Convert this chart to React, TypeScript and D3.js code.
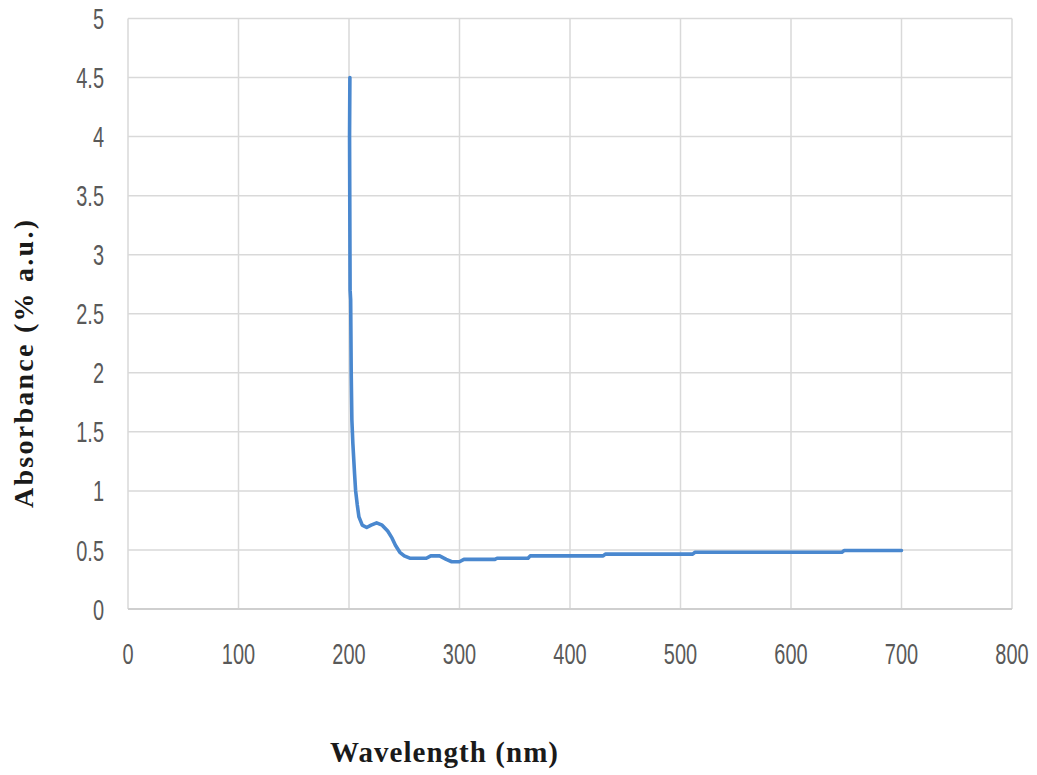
import React from "react";
import * as d3 from "d3";

const wavelength = [200.8, 200.5, 200.8, 201.0, 201.5, 202.0, 202.6, 203.5, 205, 206, 207.5, 209, 212, 216, 220, 225, 230, 235, 239, 242, 246, 250, 255, 262, 270, 274, 282, 288, 293, 300, 304, 332, 334, 362, 364, 430, 432, 511, 513, 646, 648, 700];
const absorbance = [4.5, 4.0, 3.2, 2.7, 2.62, 2.0, 1.6, 1.4, 1.15, 1.0, 0.88, 0.78, 0.71, 0.69, 0.71, 0.73, 0.71, 0.66, 0.6, 0.54, 0.48, 0.45, 0.43, 0.43, 0.43, 0.45, 0.45, 0.42, 0.40, 0.40, 0.42, 0.42, 0.43, 0.43, 0.45, 0.45, 0.465, 0.465, 0.48, 0.48, 0.495, 0.495];
const xTicks = [0, 100, 200, 300, 400, 500, 600, 700, 800];
const yTicks = [0, 0.5, 1, 1.5, 2, 2.5, 3, 3.5, 4, 4.5, 5];
const xTitle = "Wavelength (nm)";
const yTitle = "Absorbance (% a.u.)";

export default function App() {
  const W = 1037, H = 775;
  const x = d3.scaleLinear().domain([0, 800]).range([128, 1012]);
  const y = d3.scaleLinear().domain([0, 5]).range([609, 18.5]);
  const pts = wavelength.map((w, i) => [w, absorbance[i]] as [number, number]);
  const line = d3.line<[number, number]>().x(d => x(d[0])).y(d => y(d[1]));
  const grid = "#d9d9d9";
  const tickFont = "'Liberation Sans', Arial, sans-serif";
  return (
    <svg width={W} height={H} style={{ position: "absolute", left: 0, top: 0, background: "#fff" }}>
      <rect x={0} y={0} width={W} height={H} fill="#fff" />
      {yTicks.map(t => (
        <line key={"gy" + t} x1={x(0)} x2={x(800)} y1={y(t)} y2={y(t)} stroke={grid} strokeWidth={1.5} />
      ))}
      {xTicks.map(t => (
        <line key={"gx" + t} x1={x(t)} x2={x(t)} y1={y(0)} y2={y(5)} stroke={grid} strokeWidth={1.5} />
      ))}
      <line x1={x(0)} x2={x(800)} y1={y(0)} y2={y(0)} stroke="#cfcfcf" strokeWidth={2} />
      <path d={line(pts) || ""} fill="none" stroke="#4a88cf" strokeWidth={3.6} strokeLinejoin="round" strokeLinecap="round" />
      {yTicks.map(t => (
        <text key={"ty" + t} transform={`translate(104,${y(t)}) scale(0.95,1.42)`} textAnchor="end" dominantBaseline="central"
          fontFamily={tickFont} fontSize={21} fill="#595959">{String(t)}</text>
      ))}
      {xTicks.map(t => (
        <text key={"tx" + t} transform={`translate(${x(t)},653) scale(0.95,1.42)`} textAnchor="middle" dominantBaseline="central"
          fontFamily={tickFont} fontSize={21} fill="#595959">{String(t)}</text>
      ))}
      <text x={444} y={762} textAnchor="middle" fontFamily="'Liberation Serif', 'Times New Roman', serif" fontWeight="bold"
        fontSize={29} fill="#1a1a1a" textLength={228} lengthAdjust="spacing">{xTitle}</text>
      <text transform="translate(33,364) rotate(-90)" textAnchor="middle" fontFamily="'Liberation Serif', 'Times New Roman', serif"
        fontWeight="bold" fontSize={28} fill="#1a1a1a" textLength={288} lengthAdjust="spacing">{yTitle}</text>
    </svg>
  );
}
